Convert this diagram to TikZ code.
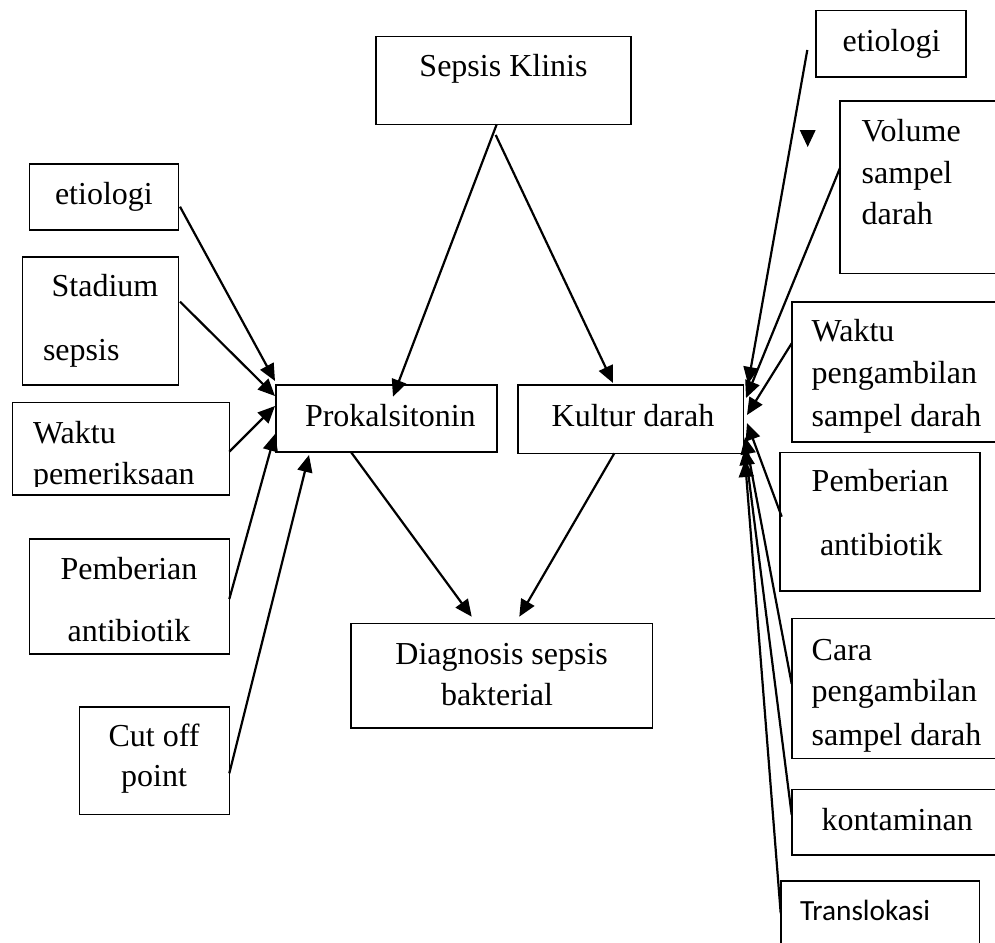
\documentclass[tikz,border=0pt]{standalone}
\usepackage{fontspec}
\setmainfont{Liberation Serif}
\newfontfamily\calibrifont{Carlito}
\usetikzlibrary{arrows.meta,calc}
\begin{document}
\begin{tikzpicture}[x=1pt,y=-1pt,
  box/.style={draw, line width=1.6pt, inner sep=0pt, outer sep=0pt},
  lbl/.style={inner sep=0pt, outer sep=0pt, anchor=base west, font=\fontsize{32}{41}\selectfont},
  clbl/.style={lbl, anchor=base},
  sanslbl/.style={lbl, font=\calibrifont\fontsize{29.3}{36}\selectfont},
  arr/.style={line width=2.2pt, -{Triangle[length=17pt,width=15pt]}}]
\useasboundingbox (0,0) rectangle (995,942);
\clip (0,0) rectangle (995,942);

% central chain
\node[box, minimum width=255.3, minimum height=87.6] (sk) at (503.35,80.5) {};
\node[box, minimum width=221, minimum height=66.7] (pk) at (386.2,418.35) {};
\node[box, minimum width=225.6, minimum height=68.3] (kd) at (630.5,419.15) {};
\node[box, minimum width=301.6, minimum height=104.7] (dx) at (501.5,675.65) {};

% factors acting on procalcitonin
\node[box, minimum width=149, minimum height=66] (l1) at (103.8,197) {};
\node[box, minimum width=156, minimum height=128.3] (l2) at (100.3,320.85) {};
\node[box, minimum width=217, minimum height=92.7] (l3) at (120.8,448.65) {};
\node[box, minimum width=200, minimum height=115] (l4) at (129.3,596.5) {};
\node[box, minimum width=150, minimum height=107.6] (l5) at (154.3,760.5) {};

% factors acting on the blood culture
\node[box, minimum width=149.7, minimum height=66] (r1) at (890.85,43.7) {};
\node[box, minimum width=170, minimum height=172.6] (r2) at (925,187) {};
\node[box, minimum width=218.3, minimum height=140] (r3) at (900.85,371.7) {};
\node[box, minimum width=200, minimum height=138.4] (r4) at (880,521.5) {};
\node[box, minimum width=218.3, minimum height=140] (r5) at (900.85,688.3) {};
\node[box, minimum width=218.3, minimum height=65.7] (r6) at (900.85,822.15) {};
\node[box, minimum width=198.6, minimum height=79] (r7) at (880,920.5) {};

% labels
\node[clbl] (tsk) at (503.5,77) {Sepsis Klinis};
\node[lbl] (tpk) at (305,426) {Prokalsitonin};
\node[lbl] (tkd) at (551.7,426) {Kultur darah};
\node[clbl] (tdx1) at (501.7,664) {Diagnosis sepsis};
\node[clbl] (tdx2) at (497,705) {bakterial};

\node[lbl] (tl1) at (55,204) {etiologi};
\node[lbl] (tl2a) at (51.7,296.7) {Stadium};
\node[lbl] (tl2b) at (43,360) {sepsis};
\node[lbl] (tl3a) at (33,443.3) {Waktu};
\begin{scope}
  \clip (12.3,402.3) rectangle (229.3,486);
  \node[lbl] (tl3b) at (33,484.5) {pemeriksaan};
\end{scope}
\node[clbl] (tl4a) at (129,579) {Pemberian};
\node[clbl] (tl4b) at (129,641.7) {antibiotik};
\node[clbl] (tl5a) at (154,746.7) {Cut off};
\node[clbl] (tl5b) at (154,786.7) {point};

\node[lbl] (tr1) at (842.7,51.7) {etiologi};
\node[lbl] (tr2a) at (861.7,141) {Volume};
\node[lbl] (tr2b) at (861.7,183) {sampel};
\node[lbl] (tr2c) at (861.7,224) {darah};
\node[lbl] (tr3a) at (811.7,341.7) {Waktu};
\node[lbl] (tr3b) at (811.7,383) {pengambilan};
\node[lbl] (tr3c) at (811.7,426) {sampel darah};
\node[lbl] (tr4a) at (811.7,491.7) {Pemberian};
\node[lbl] (tr4b) at (820,555) {antibiotik};
\node[lbl] (tr5a) at (811.7,660) {Cara};
\node[lbl] (tr5b) at (811.7,701) {pengambilan};
\node[lbl] (tr5c) at (811.7,745) {sampel darah};
\node[lbl] (tr6) at (821.7,830) {kontaminan};
\node[sanslbl] (tr7) at (800,920) {Translokasi};

% main arrows
\draw[arr] ($(sk.south)+(-6.65,0)$) -- ($(pk.north)+(6.8,11.7)$);
\draw[arr] ($(sk.south)+(-7.65,10.7)$) -- ($(kd.north)+(-17.5,-2)$);
\draw[arr] ($(pk.south)+(-35.5,0)$) -- ($(dx.north)+(-29.8,-6.6)$);
\draw[arr] ($(kd.south)+(-16.2,0)$) -- ($(dx.north)+(17.8,-6.6)$);

% left arrows into procalcitonin
\draw[arr] ($(l1.east)+(1.7,9.7)$) -- ($(pk.west)+(-0.7,-37.35)$);
\draw[arr] ($(l2.east)+(1.7,-19.2)$) -- ($(pk.west)+(-0.7,-22.35)$);
\draw[arr] ($(l3.east)+(0,3)$) -- ($(pk.west)+(-0.7,-12.35)$);
\draw[arr] ($(l4.east)+(0,2.5)$) -- ($(pk.west)+(-0.7,15.65)$);
\draw[arr] ($(l5.east)+(0,12.8)$) -- ($(pk.south west)+(33.3,3.3)$);

% right arrows into the blood culture
\draw[arr] ($(r1.west)+(-8.7,6.3)$) -- ($(kd.east)+(4.7,-35.15)$);
\draw[arr] ($(r2.west)+(0,-19)$) -- ($(kd.east)+(2.7,-21.15)$);
\draw[arr] ($(r3.west)+(0,-28.4)$) -- ($(kd.east)+(3.7,-4.15)$);
\draw[arr] ($(r4.west)+(1.7,-4.8)$) -- ($(kd.east)+(3.7,3.85)$);
\draw[arr] ($(r5.west)+(0,-4.3)$) -- ($(kd.east)+(1.7,17.85)$);
\draw[arr] ($(r6.west)+(0,-7.15)$) -- ($(kd.east)+(1.7,28.85)$);
\draw[arr] ($(r7.west)+(0,-7.2)$) -- ($(kd.east)+(1.7,40.85)$);

% loose arrow head
\fill (799.7,130) -- (815.7,130) -- (807.7,147) -- cycle;
\end{tikzpicture}
\end{document}
